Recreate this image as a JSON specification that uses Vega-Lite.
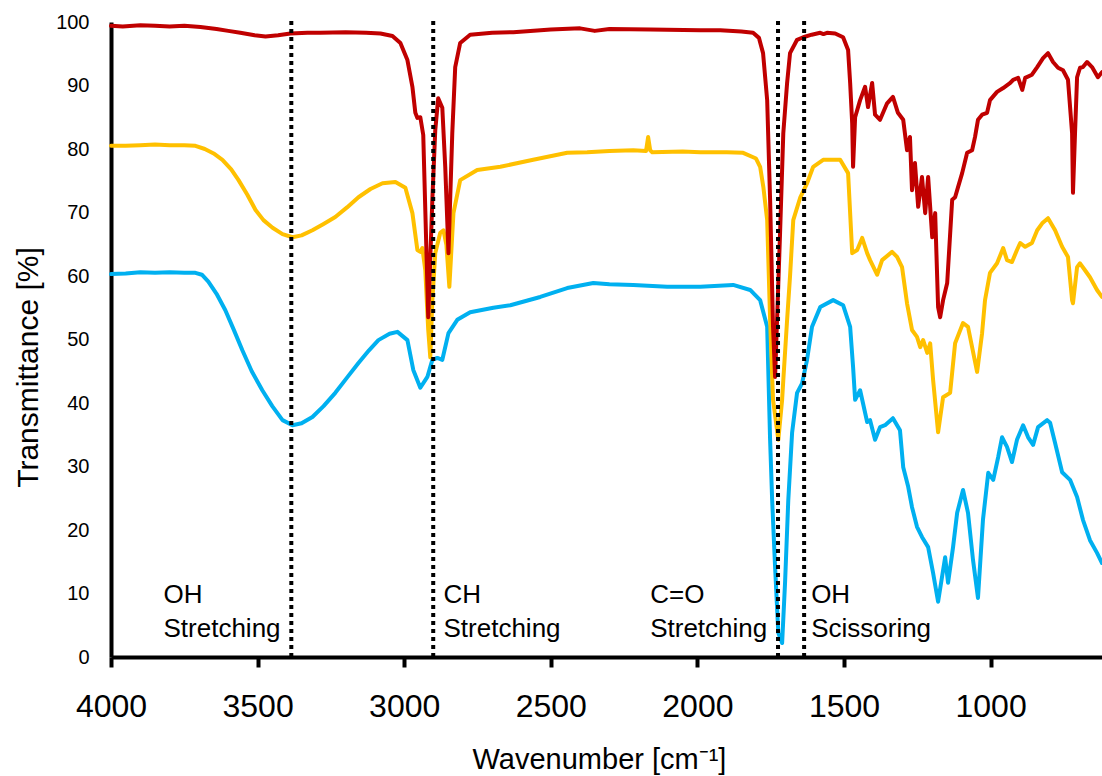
{
  "$schema": "https://vega.github.io/schema/vega-lite/v6.json",
  "width": 991,
  "height": 635,
  "autosize": {"type": "none"},
  "padding": {"left": 111, "top": 22, "right": 0, "bottom": 119},
  "background": "white",
  "config": {"view": {"stroke": null}, "font": "Liberation Sans"},
  "datasets": {
    "red": [
      {"w":4000,"t":99.4},{"w":3960,"t":99.3},{"w":3900,"t":99.5},{"w":3850,"t":99.4},{"w":3800,"t":99.3},{"w":3750,"t":99.4},{"w":3695,"t":99.2},{"w":3640,"t":98.9},{"w":3600,"t":98.6},{"w":3559,"t":98.3},{"w":3510,"t":97.9},{"w":3473,"t":97.7},{"w":3430,"t":97.9},{"w":3388,"t":98.2},{"w":3330,"t":98.3},{"w":3286,"t":98.3},{"w":3200,"t":98.4},{"w":3130,"t":98.3},{"w":3081,"t":98.2},{"w":3040,"t":97.8},{"w":3013,"t":96.7},{"w":2989,"t":94.0},{"w":2972,"t":89.8},{"w":2962,"t":85.7},{"w":2955,"t":84.9},{"w":2945,"t":85.0},{"w":2935,"t":82.2},{"w":2918,"t":53.5},{"w":2904,"t":72.0},{"w":2894,"t":83.0},{"w":2884,"t":88.0},{"w":2870,"t":86.5},{"w":2860,"t":77.2},{"w":2849,"t":63.6},{"w":2836,"t":82.5},{"w":2826,"t":92.9},{"w":2809,"t":96.7},{"w":2775,"t":98.0},{"w":2700,"t":98.3},{"w":2628,"t":98.4},{"w":2500,"t":98.8},{"w":2400,"t":99.0},{"w":2350,"t":98.6},{"w":2300,"t":98.9},{"w":2161,"t":98.8},{"w":1990,"t":98.7},{"w":1922,"t":98.7},{"w":1850,"t":98.5},{"w":1810,"t":98.3},{"w":1790,"t":97.5},{"w":1776,"t":95.1},{"w":1762,"t":87.7},{"w":1752,"t":72.0},{"w":1742,"t":52.0},{"w":1735,"t":44.1},{"w":1718,"t":66.8},{"w":1707,"t":82.5},{"w":1694,"t":90.4},{"w":1684,"t":95.1},{"w":1660,"t":97.2},{"w":1639,"t":97.6},{"w":1610,"t":98.0},{"w":1581,"t":98.3},{"w":1570,"t":98.1},{"w":1558,"t":98.3},{"w":1530,"t":98.2},{"w":1503,"t":97.6},{"w":1486,"t":95.6},{"w":1479,"t":90.4},{"w":1472,"t":84.0},{"w":1469,"t":77.2},{"w":1462,"t":85.0},{"w":1445,"t":87.7},{"w":1428,"t":89.8},{"w":1418,"t":86.6},{"w":1404,"t":90.4},{"w":1394,"t":85.4},{"w":1377,"t":84.6},{"w":1353,"t":87.2},{"w":1333,"t":88.2},{"w":1316,"t":85.7},{"w":1298,"t":84.6},{"w":1285,"t":79.8},{"w":1275,"t":81.9},{"w":1268,"t":73.5},{"w":1258,"t":77.8},{"w":1247,"t":70.9},{"w":1234,"t":75.6},{"w":1223,"t":69.9},{"w":1213,"t":75.6},{"w":1199,"t":66.1},{"w":1189,"t":69.9},{"w":1179,"t":55.1},{"w":1172,"t":53.5},{"w":1162,"t":56.2},{"w":1148,"t":58.9},{"w":1131,"t":72.0},{"w":1121,"t":72.4},{"w":1111,"t":74.0},{"w":1097,"t":76.2},{"w":1080,"t":79.4},{"w":1063,"t":79.8},{"w":1053,"t":81.9},{"w":1043,"t":84.6},{"w":1029,"t":85.4},{"w":1012,"t":85.7},{"w":1002,"t":87.7},{"w":978,"t":89.0},{"w":957,"t":89.6},{"w":933,"t":90.4},{"w":923,"t":90.9},{"w":906,"t":91.2},{"w":892,"t":89.3},{"w":882,"t":91.2},{"w":859,"t":91.7},{"w":841,"t":92.9},{"w":821,"t":94.3},{"w":804,"t":95.1},{"w":787,"t":93.7},{"w":770,"t":92.8},{"w":753,"t":92.4},{"w":736,"t":90.9},{"w":722,"t":82.5},{"w":719,"t":73.1},{"w":712,"t":82.5},{"w":705,"t":91.3},{"w":695,"t":92.8},{"w":685,"t":92.9},{"w":671,"t":93.7},{"w":654,"t":92.9},{"w":634,"t":91.3},{"w":620,"t":92.1}
    ],
    "yellow": [
      {"w":4000,"t":80.5},{"w":3950,"t":80.5},{"w":3900,"t":80.6},{"w":3850,"t":80.7},{"w":3800,"t":80.6},{"w":3750,"t":80.6},{"w":3712,"t":80.5},{"w":3680,"t":80.0},{"w":3650,"t":79.3},{"w":3620,"t":78.3},{"w":3590,"t":76.8},{"w":3565,"t":75.1},{"w":3535,"t":72.8},{"w":3507,"t":70.4},{"w":3480,"t":68.8},{"w":3449,"t":67.6},{"w":3415,"t":66.6},{"w":3381,"t":66.1},{"w":3350,"t":66.4},{"w":3313,"t":67.2},{"w":3275,"t":68.2},{"w":3235,"t":69.3},{"w":3195,"t":70.8},{"w":3156,"t":72.4},{"w":3115,"t":73.7},{"w":3074,"t":74.6},{"w":3030,"t":74.8},{"w":2996,"t":73.9},{"w":2972,"t":69.9},{"w":2955,"t":64.1},{"w":2945,"t":63.8},{"w":2938,"t":64.4},{"w":2928,"t":60.9},{"w":2918,"t":51.5},{"w":2911,"t":47.2},{"w":2904,"t":56.2},{"w":2894,"t":63.6},{"w":2877,"t":66.8},{"w":2866,"t":67.2},{"w":2856,"t":64.9},{"w":2846,"t":58.3},{"w":2832,"t":69.9},{"w":2809,"t":75.1},{"w":2751,"t":76.7},{"w":2672,"t":77.2},{"w":2560,"t":78.3},{"w":2444,"t":79.4},{"w":2376,"t":79.5},{"w":2300,"t":79.7},{"w":2219,"t":79.8},{"w":2175,"t":79.7},{"w":2168,"t":81.9},{"w":2161,"t":79.8},{"w":2154,"t":79.5},{"w":2050,"t":79.6},{"w":1990,"t":79.5},{"w":1900,"t":79.5},{"w":1844,"t":79.4},{"w":1800,"t":78.5},{"w":1786,"t":77.2},{"w":1775,"t":74.0},{"w":1762,"t":68.8},{"w":1752,"t":53.1},{"w":1742,"t":40.5},{"w":1724,"t":34.2},{"w":1711,"t":40.5},{"w":1707,"t":43.6},{"w":1694,"t":53.1},{"w":1684,"t":60.0},{"w":1673,"t":68.8},{"w":1649,"t":72.4},{"w":1626,"t":74.6},{"w":1605,"t":77.2},{"w":1571,"t":78.3},{"w":1513,"t":78.3},{"w":1486,"t":76.2},{"w":1472,"t":63.6},{"w":1455,"t":64.1},{"w":1438,"t":66.0},{"w":1421,"t":63.6},{"w":1411,"t":62.5},{"w":1387,"t":60.2},{"w":1370,"t":62.5},{"w":1336,"t":63.8},{"w":1319,"t":63.0},{"w":1302,"t":61.4},{"w":1285,"t":55.7},{"w":1268,"t":51.5},{"w":1251,"t":50.4},{"w":1240,"t":48.8},{"w":1230,"t":49.9},{"w":1216,"t":47.9},{"w":1206,"t":49.4},{"w":1196,"t":43.6},{"w":1179,"t":35.4},{"w":1162,"t":40.9},{"w":1138,"t":41.6},{"w":1121,"t":49.4},{"w":1094,"t":52.6},{"w":1077,"t":52.0},{"w":1046,"t":44.9},{"w":1029,"t":51.0},{"w":1019,"t":56.2},{"w":1002,"t":60.5},{"w":978,"t":62.0},{"w":957,"t":64.4},{"w":944,"t":62.5},{"w":927,"t":62.2},{"w":910,"t":64.1},{"w":899,"t":65.2},{"w":882,"t":64.6},{"w":859,"t":65.2},{"w":841,"t":67.2},{"w":824,"t":68.3},{"w":804,"t":69.1},{"w":780,"t":67.2},{"w":756,"t":64.6},{"w":736,"t":63.0},{"w":722,"t":56.2},{"w":719,"t":55.7},{"w":705,"t":61.4},{"w":695,"t":62.0},{"w":678,"t":60.9},{"w":661,"t":59.8},{"w":637,"t":57.8},{"w":620,"t":56.7}
    ],
    "blue": [
      {"w":4000,"t":60.3},{"w":3950,"t":60.4},{"w":3900,"t":60.6},{"w":3850,"t":60.5},{"w":3800,"t":60.6},{"w":3750,"t":60.5},{"w":3712,"t":60.5},{"w":3690,"t":60.2},{"w":3668,"t":59.1},{"w":3640,"t":57.2},{"w":3610,"t":54.6},{"w":3580,"t":51.4},{"w":3552,"t":48.3},{"w":3520,"t":45.0},{"w":3484,"t":42.0},{"w":3450,"t":39.5},{"w":3415,"t":37.3},{"w":3381,"t":36.5},{"w":3350,"t":36.8},{"w":3313,"t":37.8},{"w":3275,"t":39.5},{"w":3235,"t":41.6},{"w":3195,"t":44.0},{"w":3156,"t":46.3},{"w":3120,"t":48.3},{"w":3088,"t":49.9},{"w":3050,"t":50.9},{"w":3023,"t":51.2},{"w":2989,"t":49.9},{"w":2969,"t":45.2},{"w":2945,"t":42.4},{"w":2921,"t":44.1},{"w":2904,"t":46.8},{"w":2887,"t":47.1},{"w":2870,"t":46.8},{"w":2849,"t":51.0},{"w":2819,"t":53.1},{"w":2775,"t":54.3},{"w":2696,"t":55.0},{"w":2638,"t":55.4},{"w":2536,"t":56.7},{"w":2444,"t":58.1},{"w":2355,"t":58.9},{"w":2300,"t":58.7},{"w":2219,"t":58.6},{"w":2103,"t":58.3},{"w":1990,"t":58.3},{"w":1878,"t":58.6},{"w":1820,"t":57.8},{"w":1786,"t":56.2},{"w":1762,"t":52.0},{"w":1752,"t":34.2},{"w":1745,"t":24.7},{"w":1735,"t":14.2},{"w":1724,"t":3.8},{"w":1711,"t":2.2},{"w":1701,"t":11.7},{"w":1690,"t":24.7},{"w":1677,"t":35.3},{"w":1660,"t":41.6},{"w":1643,"t":43.1},{"w":1626,"t":46.8},{"w":1609,"t":52.0},{"w":1581,"t":55.1},{"w":1537,"t":56.2},{"w":1503,"t":55.4},{"w":1479,"t":52.0},{"w":1469,"t":45.7},{"w":1462,"t":40.5},{"w":1445,"t":42.0},{"w":1421,"t":37.0},{"w":1411,"t":37.3},{"w":1394,"t":34.2},{"w":1377,"t":36.2},{"w":1360,"t":36.5},{"w":1333,"t":37.6},{"w":1309,"t":35.7},{"w":1298,"t":29.9},{"w":1281,"t":26.8},{"w":1268,"t":23.6},{"w":1251,"t":20.5},{"w":1234,"t":18.9},{"w":1213,"t":17.3},{"w":1196,"t":13.2},{"w":1179,"t":8.7},{"w":1155,"t":15.7},{"w":1145,"t":11.7},{"w":1128,"t":17.3},{"w":1114,"t":22.7},{"w":1094,"t":26.3},{"w":1077,"t":22.7},{"w":1060,"t":15.3},{"w":1043,"t":9.3},{"w":1026,"t":21.6},{"w":1008,"t":29.0},{"w":991,"t":27.9},{"w":974,"t":31.5},{"w":961,"t":34.6},{"w":944,"t":33.1},{"w":927,"t":30.7},{"w":910,"t":34.2},{"w":889,"t":36.5},{"w":872,"t":34.6},{"w":855,"t":33.4},{"w":838,"t":36.2},{"w":807,"t":37.3},{"w":797,"t":36.9},{"w":780,"t":33.7},{"w":756,"t":29.1},{"w":729,"t":27.9},{"w":705,"t":25.2},{"w":685,"t":21.6},{"w":661,"t":18.4},{"w":637,"t":16.4},{"w":620,"t":14.8}
    ],
    "bands": [
      {"w":3385,"t":0,"t2":100.5},{"w":2901,"t":0,"t2":100.5},{"w":1725,"t":0,"t2":100.5},{"w":1636,"t":0,"t2":100.5}
    ],
    "notes": [
      {"w":3821,"t":8.5,"label":"OH\nStretching"},{"w":2866,"t":8.5,"label":"CH\nStretching"},{"w":2161,"t":8.5,"label":"C=O\nStretching"},{"w":1612,"t":8.5,"label":"OH\nScissoring"}
    ]
  },
  "encoding": {
    "x": {
      "field": "w", "type": "quantitative",
      "scale": {"domain": [620, 4000], "reverse": true, "nice": false, "zero": false},
      "axis": {
        "values": [4000, 3500, 3000, 2500, 2000, 1500, 1000], "format": "d",
        "grid": false, "domainColor": "black", "domainWidth": 4,
        "tickColor": "black", "tickWidth": 4, "tickSize": 10,
        "labelFontSize": 32, "labelColor": "black", "labelPadding": 24, "labelFlush": false, "labelOverlap": false,
        "title": "Wavenumber [cm⁻¹]", "titleFontSize": 29, "titleFontWeight": "normal", "titleColor": "black",
        "titleBaseline": "alphabetic", "titleX": 488, "titleY": 111, "titleAnchor": "middle"
      }
    },
    "y": {
      "field": "t", "type": "quantitative",
      "scale": {"domain": [0, 100], "nice": false},
      "axis": {
        "values": [0, 10, 20, 30, 40, 50, 60, 70, 80, 90, 100],
        "grid": false, "ticks": false, "tickSize": 0, "domainColor": "black", "domainWidth": 4,
        "labelFontSize": 20, "labelColor": "black", "labelPadding": 22,
        "title": "Transmittance [%]", "titleFontSize": 30, "titleFontWeight": "normal", "titleColor": "black",
        "titleAngle": 270, "titleBaseline": "middle", "titleX": -83, "titleY": 345
      }
    }
  },
  "layer": [
    {"data": {"name": "blue"}, "mark": {"type": "line", "color": "#00B0F0", "strokeWidth": 4, "strokeJoin": "round", "strokeCap": "round"}},
    {"data": {"name": "yellow"}, "mark": {"type": "line", "color": "#FFC000", "strokeWidth": 4, "strokeJoin": "round", "strokeCap": "round"}},
    {"data": {"name": "red"}, "mark": {"type": "line", "color": "#C00000", "strokeWidth": 4, "strokeJoin": "round", "strokeCap": "round"}},
    {"data": {"name": "bands"}, "mark": {"type": "rule", "color": "black", "strokeWidth": 4, "strokeDash": [4, 4], "strokeCap": "butt"}, "encoding": {"y2": {"field": "t2"}}},
    {"data": {"name": "notes"}, "mark": {"type": "text", "align": "left", "baseline": "alphabetic", "fontSize": 26, "lineHeight": 34, "lineBreak": "\n", "color": "black"}, "encoding": {"text": {"field": "label"}}}
  ]
}
